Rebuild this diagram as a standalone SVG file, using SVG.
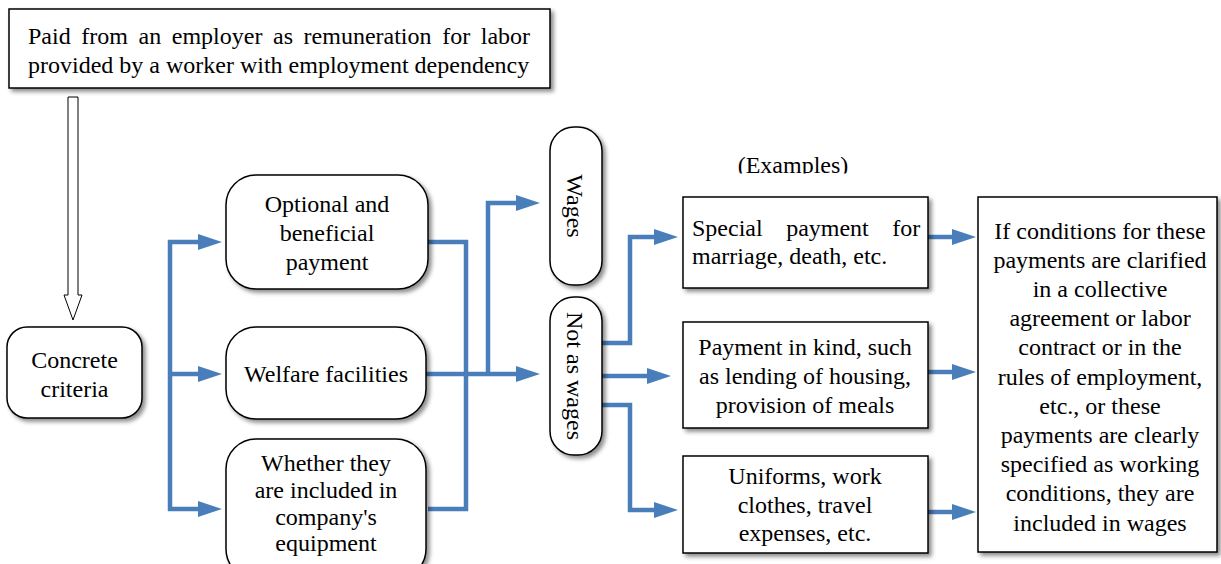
<svg xmlns="http://www.w3.org/2000/svg" width="1221" height="564" viewBox="0 0 1221 564">
<style>
.box{fill:#fff;stroke:#000;stroke-width:1.5;filter:url(#sh)}
.t{font-family:"Liberation Serif","Times New Roman",serif;font-size:24px;fill:#000}
.c{text-anchor:middle}
.ln{fill:none;stroke:#4A7EBB;stroke-width:4.5;stroke-linejoin:miter}
.ar{marker-end:url(#ah)}
</style>
<defs>
<filter id="sh" x="-10%" y="-10%" width="130%" height="130%">
<feDropShadow dx="3" dy="3" stdDeviation="2" flood-color="#000" flood-opacity="0.45"/>
</filter>
<marker id="ah" markerUnits="userSpaceOnUse" markerWidth="26" markerHeight="18" refX="4" refY="8" orient="auto">
<path d="M0,0 L24,8 L0,16 z" fill="#4A7EBB"/>
</marker>
<clipPath id="exclip"><rect x="700" y="140" width="200" height="33.5"/></clipPath>
</defs>
<rect width="1221" height="564" fill="#fff"/>

<g id="connectors">
<polygon points="68,97 78,97 78,295 82,295 73,320 64,295 68,295" fill="#fff" stroke="#000" stroke-width="1"/>
<path class="ln" d="M170,240 V511"/>
<path class="ln ar" d="M168,242 H202"/>
<path class="ln ar" d="M168,374 H202"/>
<path class="ln ar" d="M168,509 H202"/>
<path class="ln" d="M428,242 H466 V509 H428"/>
<path class="ln ar" d="M426,374 H520"/>
<path class="ln ar" d="M488,376 V203 H520"/>
<path class="ln ar" d="M602,343 H630 V237 H658"/>
<path class="ln ar" d="M602,376 H651"/>
<path class="ln ar" d="M602,405 H630 V510 H658"/>
<path class="ln ar" d="M928,237 H956"/>
<path class="ln ar" d="M928,372 H956"/>
<path class="ln ar" d="M928,512 H956"/>
</g>

<g id="top">
<rect class="box" x="9" y="9" width="541" height="79"/>
<text class="t" x="28" y="44" word-spacing="4.6">Paid from an employer as remuneration for labor</text>
<text class="t" x="28" y="73">provided by a worker with employment dependency</text>
</g>

<g id="concrete">
<rect class="box" x="7" y="327" width="135" height="91" rx="20"/>
<text class="t c" x="74.5" y="368">Concrete</text>
<text class="t c" x="74.5" y="397">criteria</text>
</g>

<g id="optional">
<rect class="box" x="226" y="175" width="202" height="114" rx="30"/>
<text class="t c" x="327" y="212">Optional and</text>
<text class="t c" x="327" y="241">beneficial</text>
<text class="t c" x="327" y="270">payment</text>
</g>

<g id="welfare">
<rect class="box" x="226" y="327" width="200" height="92" rx="30"/>
<text class="t c" x="326" y="382">Welfare facilities</text>
</g>

<g id="whether">
<rect class="box" x="226" y="439" width="200" height="140" rx="30"/>
<text class="t c" x="326" y="471">Whether they</text>
<text class="t c" x="326" y="498">are included in</text>
<text class="t c" x="326" y="525">company's</text>
<text class="t c" x="326" y="551">equipment</text>
</g>

<g id="wages">
<rect class="box" x="550" y="127" width="52" height="158" rx="24"/>
<text class="t c" transform="translate(567,206) rotate(90)" x="0" y="0">Wages</text>
</g>

<g id="notwages">
<rect class="box" x="550" y="297" width="52" height="158" rx="24"/>
<text class="t c" transform="translate(567,376) rotate(90)" x="0" y="0">Not as wages</text>
</g>

<g id="examples">
<text class="t c" x="793" y="173" clip-path="url(#exclip)">(Examples)</text>
</g>

<g id="special">
<rect class="box" x="683" y="197" width="245" height="91"/>
<text class="t" x="692" y="236" word-spacing="17.5">Special payment for</text>
<text class="t" x="692" y="264">marriage, death, etc.</text>
</g>

<g id="kind">
<rect class="box" x="683" y="322" width="245" height="106"/>
<text class="t c" x="805" y="355">Payment in kind, such</text>
<text class="t c" x="805" y="384">as lending of housing,</text>
<text class="t c" x="805" y="413">provision of meals</text>
</g>

<g id="uniforms">
<rect class="box" x="683" y="456" width="245" height="97"/>
<text class="t c" x="805" y="484">Uniforms, work</text>
<text class="t c" x="805" y="513">clothes, travel</text>
<text class="t c" x="805" y="541">expenses, etc.</text>
</g>

<g id="conditions">
<rect class="box" x="978" y="197" width="239" height="355"/>
<text class="t c" x="1100" y="239">If conditions for these</text>
<text class="t c" x="1100" y="268">payments are clarified</text>
<text class="t c" x="1100" y="297">in a collective</text>
<text class="t c" x="1100" y="326">agreement or labor</text>
<text class="t c" x="1100" y="355">contract or in the</text>
<text class="t c" x="1100" y="385">rules of employment,</text>
<text class="t c" x="1100" y="414">etc., or these</text>
<text class="t c" x="1100" y="443">payments are clearly</text>
<text class="t c" x="1100" y="472">specified as working</text>
<text class="t c" x="1100" y="501">conditions, they are</text>
<text class="t c" x="1100" y="531">included in wages</text>
</g>
</svg>
